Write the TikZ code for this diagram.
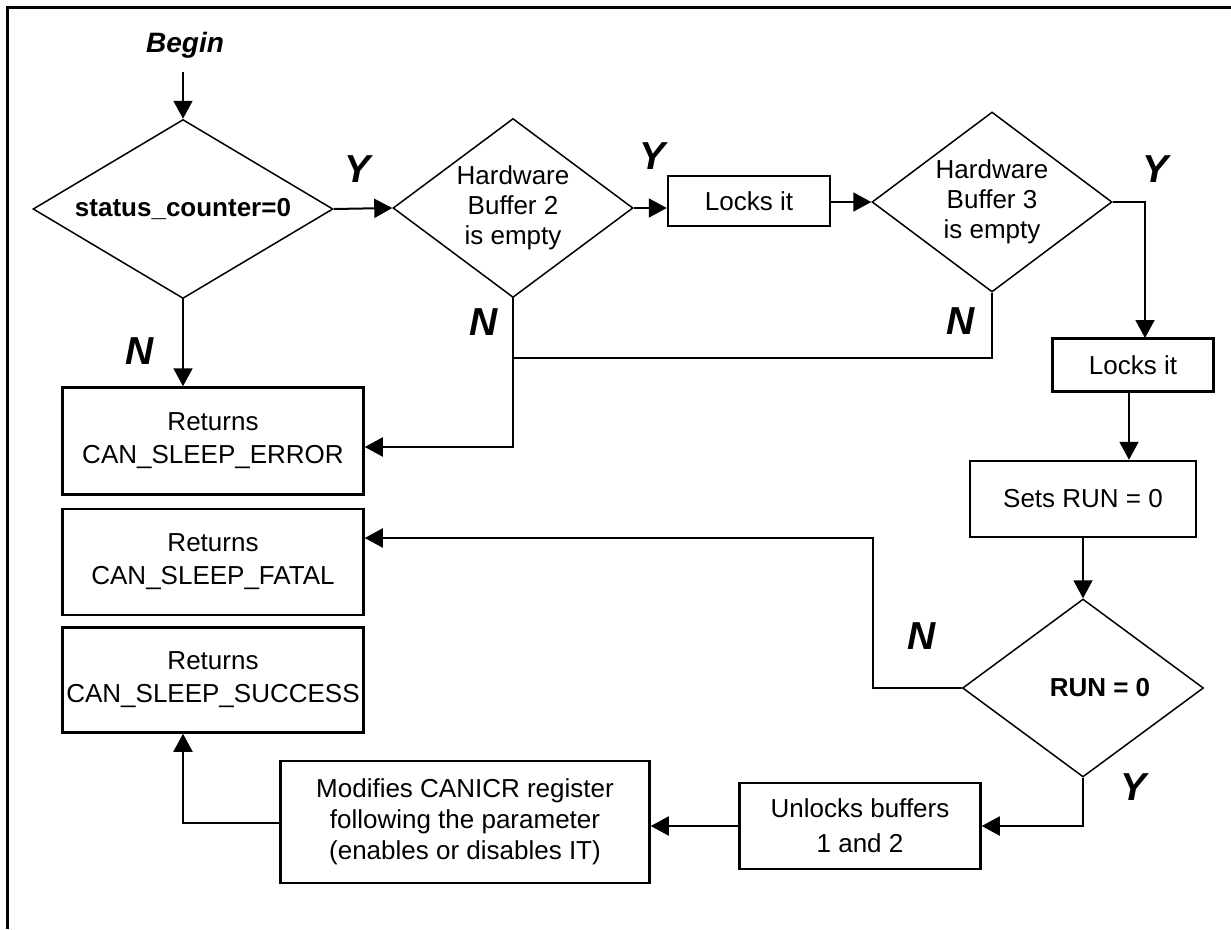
\documentclass[tikz,border=0pt]{standalone}
\usepackage{fontspec}
\setmainfont{Liberation Sans}
\usetikzlibrary{shapes.geometric,arrows.meta,calc}
\newcommand{\fsz}[1]{\fontsize{26}{#1}\selectfont}
\tikzset{
  frame/.style={line width=3pt},
  conn/.style={line width=2pt},
  arr/.style={conn,-{Triangle[length=18pt,width=19pt]}},
  stepbox/.style={draw,rectangle,line width=2.5pt,align=center,inner sep=0pt},
  decision/.style={draw,diamond,line width=1.5pt,inner sep=0pt,align=center},
  yn/.style={font=\bfseries\itshape\fontsize{39}{39}\selectfont,inner sep=0pt},
}
\begin{document}
\begin{tikzpicture}[x=1pt,y=-1pt]
\useasboundingbox (0,0) rectangle (1231,929);
\draw[frame] (7,929) -- (7,7) -- (1232,7);

% nodes
\node[inner sep=0pt,font=\bfseries\itshape\fontsize{28}{28}\selectfont] (begin) at (185,45) {Begin};
\node[decision,aspect=1.676,minimum width=300pt,minimum height=179pt,font=\bfseries\fsz{30}] (d1) at (183,209) {status\_counter=0};
\node[decision,aspect=1.34,minimum width=240pt,minimum height=179pt,font=\fsz{30}] (d2) at (513,208) {Hardware\\Buffer 2\\is empty};
\node[stepbox,minimum width=162pt,minimum height=50pt,font=\fsz{31}] (lock1) at (749,201) {Locks it};
\node[decision,aspect=1.333,minimum width=240pt,minimum height=180pt,font=\fsz{30}] (d3) at (992,202) {Hardware\\Buffer 3\\is empty};
\node[stepbox,minimum width=161pt,minimum height=53pt,font=\fsz{31}] (lock2) at (1133,365) {Locks it};
\node[stepbox,minimum width=226pt,minimum height=76pt,font=\fsz{31}] (setrun) at (1083,499) {Sets RUN = 0};
\node[decision,aspect=1.354,minimum width=241pt,minimum height=178pt,font=\bfseries\fsz{31}] (run) at (1083,688) {\hspace*{34pt}RUN = 0};
\node[stepbox,minimum width=241pt,minimum height=86pt,font=\fsz{35}] (unlock) at (860,826) {Unlocks buffers\\1 and 2};
\node[stepbox,minimum width=369pt,minimum height=122pt,font=\fsz{31}] (modif) at (465,822) {Modifies CANICR register\\following the parameter\\(enables or disables IT)};
\node[stepbox,minimum width=301pt,minimum height=107pt,font=\fsz{33}] (err) at (213,441) {Returns\\CAN\_SLEEP\_ERROR};
\node[stepbox,minimum width=301pt,minimum height=106pt,font=\fsz{33}] (fatal) at (213,562) {Returns\\CAN\_SLEEP\_FATAL};
\node[stepbox,minimum width=301pt,minimum height=105pt,font=\fsz{33}] (succ) at (213,680) {Returns\\CAN\_SLEEP\_SUCCESS};

% labels
\node[yn] (y1) at (358,169) {Y};
\node[yn] (y2) at (652,156) {Y};
\node[yn] (y3) at (1155,169) {Y};
\node[yn] (n1) at (140,351) {N};
\node[yn] (n2) at (484,322) {N};
\node[yn] (n3) at (961,321) {N};
\node[yn] (n4) at (922,636) {N};
\node[yn] (y4) at (1133,787) {Y};

% helper coordinates
\coordinate (c3) at (513,447);
\coordinate (c4) at (513,358);
\coordinate (c5) at (873,538);
\coordinate (c6) at (183,823);
\coordinate (c7) at (1145,338);
\coordinate (c8) at (1129,391);

% connectors
\draw[arr] (d1.north |- 0,72) -- (d1.north);
\draw[arr] (d1.east) -- (d2.west);
\draw[arr] (d2.east) -- (d2.east -| lock1.west);
\draw[arr] (d3.west -| lock1.east) -- (d3.west);
\draw[arr] (d3.east) -| (c7);
\draw[arr] (c8) -- (c8 |- setrun.north);
\draw[arr] (setrun.south) -- (run.north);
\draw[arr] (run.west) -| (c5) -- (c5 -| fatal.east);
\draw[arr] (run.south) |- (unlock.east);
\draw[arr] (unlock.west) -- (unlock.west -| modif.east);
\draw[arr] (modif.west |- c6) -- (c6) -- (c6 |- succ.south);
\draw[arr] (d1.south) -- (d1.south |- err.north);
\draw[arr] (d2.south) -- (c3) -- (c3 -| err.east);
\draw[conn] (d3.south) |- (c4);
\end{tikzpicture}
\end{document}
